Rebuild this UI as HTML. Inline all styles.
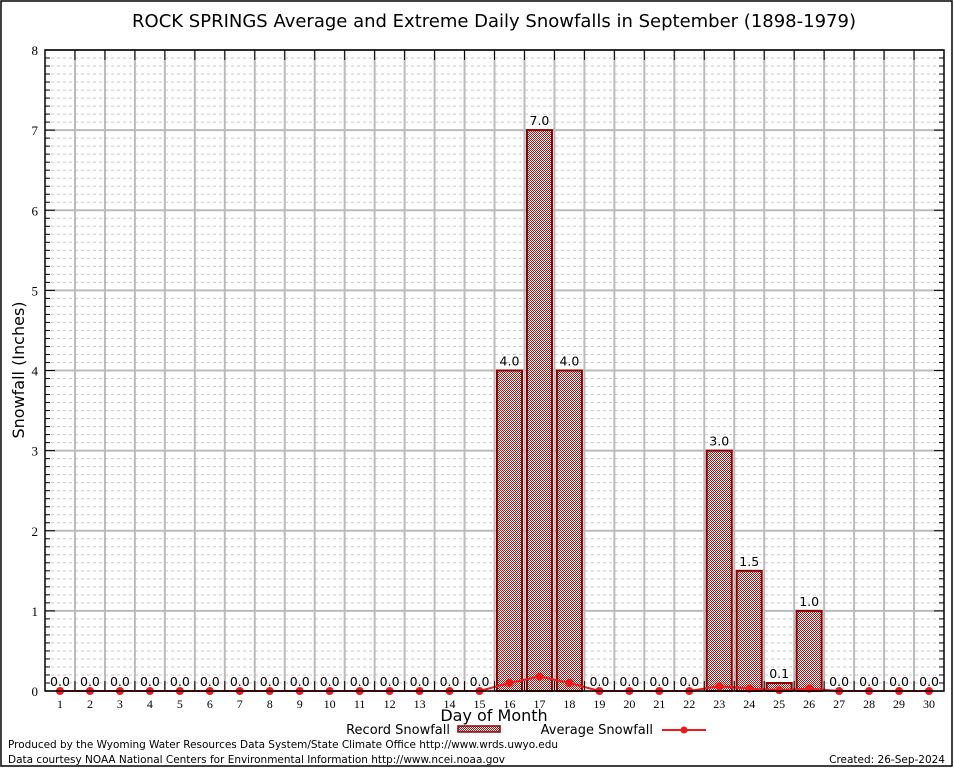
<!DOCTYPE html>
<html><head><meta charset="utf-8"><style>
body{margin:0;background:#fff}
svg{display:block;font-family:"DejaVu Sans",sans-serif}
</style></head><body>
<svg id="chart" width="954" height="768" viewBox="0 0 954 768">
<defs>
<pattern id="hatch" width="2" height="2" patternUnits="userSpaceOnUse">
<rect width="2" height="2" fill="#fff"/>
<rect width="1" height="1" fill="#b01010"/><rect x="1" y="1" width="1" height="1" fill="#b01010"/>
</pattern>
</defs>
<rect x="1" y="1" width="951" height="765" fill="#fff" stroke="#000" stroke-width="1.5"/>
<text x="494" y="27" font-size="18" text-anchor="middle">ROCK SPRINGS Average and Extreme Daily Snowfalls in September (1898-1979)</text>
<g id="grid"></g>
<g id="bars"></g>
<g id="avg"></g>
<rect x="45" y="50" width="899" height="641" fill="none" stroke="#000" stroke-width="1.5"/>
<g id="axes"></g>
<text x="24" y="370" font-size="16" text-anchor="middle" transform="rotate(-90 24 370)">Snowfall (Inches)</text>
<text x="494" y="721" font-size="16" text-anchor="middle">Day of Month</text>
<g>
<text x="450" y="734" font-size="13" text-anchor="end">Record Snowfall</text>
<rect x="458" y="726" width="42" height="6" fill="url(#hatch)" stroke="#8b0000" stroke-width="1.5"/>
</g>
<g>
<text x="653" y="734" font-size="13" text-anchor="end">Average Snowfall</text>
<line x1="662" y1="730" x2="706" y2="730" stroke="#f01818" stroke-width="2"/>
<circle cx="684" cy="730" r="3.5" fill="#f01818"/>
</g>
<text x="8" y="748" font-size="10.5" textLength="550">Produced by the Wyoming Water Resources Data System/State Climate Office http://www.wrds.uwyo.edu</text>
<text x="8" y="763" font-size="10.5" textLength="497">Data courtesy NOAA National Centers for Environmental Information http://www.ncei.noaa.gov</text>
<text x="945" y="763" font-size="10.5" text-anchor="end">Created: 26-Sep-2024</text>
</svg>
<script>
const days = [1,2,3,4,5,6,7,8,9,10,11,12,13,14,15,16,17,18,19,20,21,22,23,24,25,26,27,28,29,30];
const recordSnow = [0,0,0,0,0,0,0,0,0,0,0,0,0,0,0,4.0,7.0,4.0,0,0,0,0,3.0,1.5,0.1,1.0,0,0,0,0];
const avgSnow = [0,0,0,0,0,0,0,0,0,0,0,0,0,0,0,0.1,0.18,0.1,0,0,0,0,0.06,0.03,0.01,0.03,0,0,0,0];
const yTicks = [0,1,2,3,4,5,6,7,8];

const NS="http://www.w3.org/2000/svg";
const x0=45,x1=944,y0=691,y1=50,yMax=8;
const step=(x1-x0)/30;
const xs=d=>x0+(d-0.5)*step;
const ys=v=>y0-(v/yMax)*(y0-y1);
function mk(t,a,p){const e=document.createElementNS(NS,t);for(const k in a)e.setAttribute(k,a[k]);p.appendChild(e);return e;}
const grid=document.getElementById('grid'),bars=document.getElementById('bars'),avg=document.getElementById('avg'),axes=document.getElementById('axes');
for(let i=1;i<yMax*10;i++){if(i%10===0)continue;const y=ys(i/10);
const l=mk('line',{x1:x0,x2:x1,y1:y,y2:y,stroke:'#c8c8c8','stroke-width':1,'stroke-dasharray':'3,3'},grid);


mk('line',{x1:x0,x2:x0+5,y1:y,y2:y,stroke:'#000'},axes);mk('line',{x1:x1-5,x2:x1,y1:y,y2:y,stroke:'#000'},axes);}
yTicks.forEach(v=>{const y=ys(v);
const l=mk('line',{x1:x0,x2:x1,y1:y,y2:y,stroke:'#bbb','stroke-width':2},grid);


mk('line',{x1:x0,x2:x0+10,y1:y,y2:y,stroke:'#000'},axes);mk('line',{x1:x1-10,x2:x1,y1:y,y2:y,stroke:'#000'},axes);
const t=mk('text',{x:38,y:y+5,'font-size':13,'text-anchor':'end','font-family':'Liberation Serif,serif'},axes);t.textContent=v;

});
for(let i=1;i<30;i++){const x=x0+i*step;
const l=mk('line',{x1:x,x2:x,y1:y1,y2:y0,stroke:'#bbb','stroke-width':2},grid);


mk('line',{x1:x,x2:x,y1:y1,y2:y1+10,stroke:'#000'},axes);mk('line',{x1:x,x2:x,y1:y0-10,y2:y0,stroke:'#000'},axes);}
days.forEach((d,i)=>{const cx=xs(d);const v=recordSnow[i];
if(v>0){const r=mk('rect',{x:cx-12.5,y:ys(v),width:25,height:y0-ys(v),fill:'url(#hatch)',stroke:'#8b0000','stroke-width':2},bars);

}
const t=mk('text',{x:cx,y:ys(v)-5,'font-size':12.5,'text-anchor':'middle'},bars);t.textContent=v.toFixed(1);


const xl=mk('text',{x:cx,y:708,'font-size':12,'text-anchor':'middle','font-family':'Liberation Serif,serif'},axes);xl.textContent=d;

});
const p=mk('polyline',{points:days.map((d,i)=>xs(d)+','+ys(avgSnow[i])).join(' '),fill:'none',stroke:'#f01818','stroke-width':2},avg);


days.forEach((d,i)=>{const c=mk('circle',{cx:xs(d),cy:ys(avgSnow[i]),r:4,fill:'#f01818'},avg);

});
</script>
</body></html>
